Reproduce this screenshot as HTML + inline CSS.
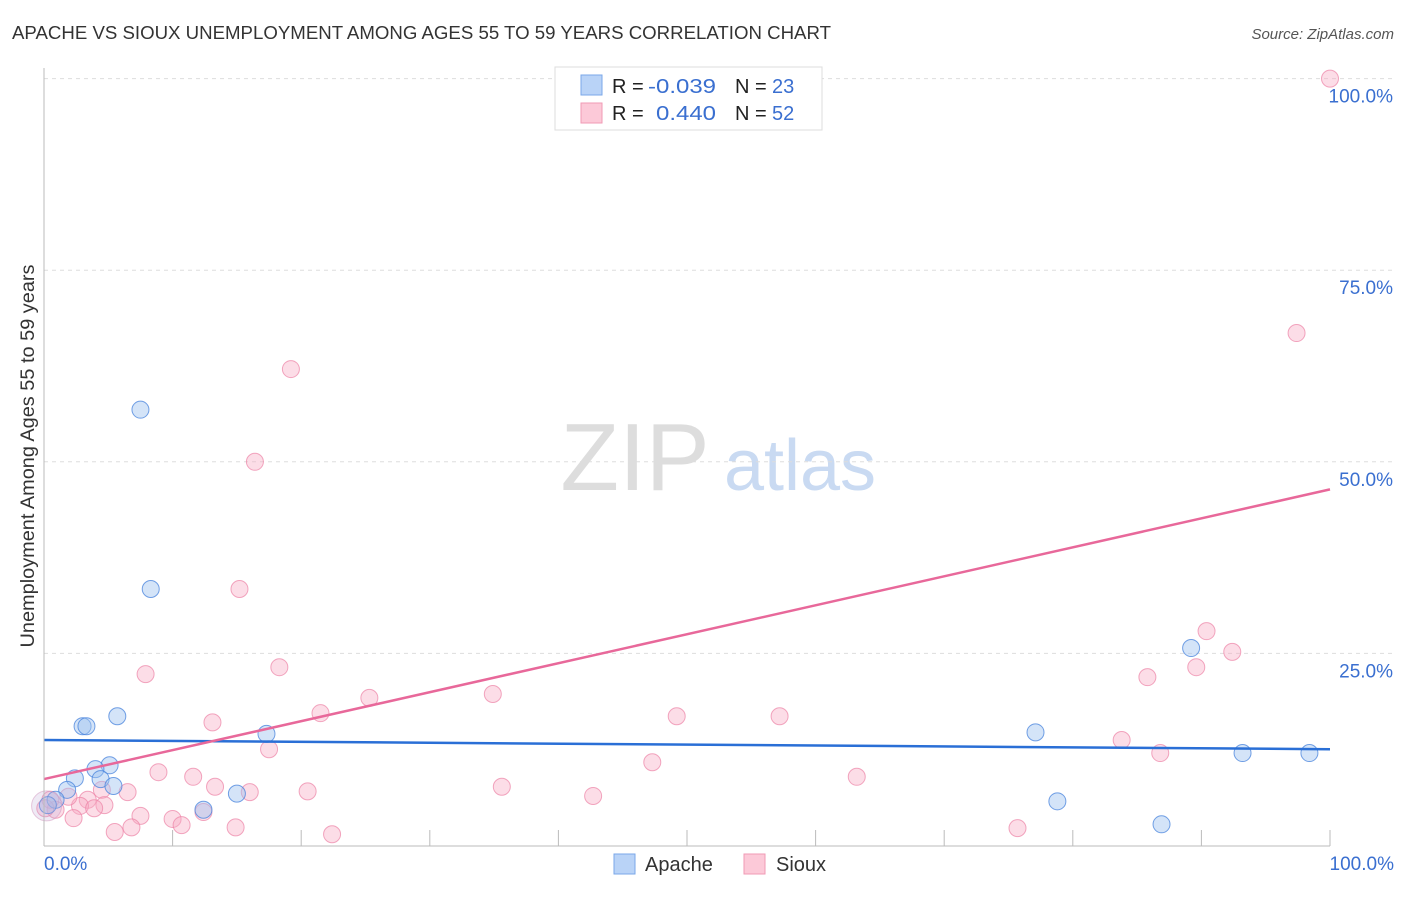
<!DOCTYPE html>
<html><head><meta charset="utf-8"><style>
body{margin:0;background:#fff;font-family:"Liberation Sans",sans-serif;}
svg text{font-family:"Liberation Sans",sans-serif;}
</style></head><body>
<svg width="1406" height="892" id="chart">
<text x="12" y="39" font-size="18" fill="#333" textLength="819" lengthAdjust="spacingAndGlyphs">APACHE VS SIOUX UNEMPLOYMENT AMONG AGES 55 TO 59 YEARS CORRELATION CHART</text>
<text x="1394" y="39" font-size="15" fill="#555" text-anchor="end" font-style="italic">Source: ZipAtlas.com</text>
<text x="34" y="456" font-size="19" fill="#333" text-anchor="middle" textLength="383" lengthAdjust="spacingAndGlyphs" transform="rotate(-90 34 456)">Unemployment Among Ages 55 to 59 years</text>
<g><text x="635" y="490" font-size="96" fill="#ddd" font-family="Liberation Serif" text-anchor="middle">ZIP</text><text x="800" y="490" font-size="72" fill="#c9daf2" text-anchor="middle">atlas</text></g>
<g id="grid"></g><g id="marks"></g>
<line x1="44" y1="68" x2="44" y2="846" stroke="#bbb"/>
<line x1="44" y1="846" x2="1330" y2="846" stroke="#bbb"/>
<text x="44" y="870" font-size="19" fill="#3a6fd0">0.0%</text>
<text x="1394" y="870" font-size="19" fill="#3a6fd0" text-anchor="end">100.0%</text>
<g>
<rect x="555" y="67" width="267" height="63" fill="#fff" stroke="#ddd"/>
<rect x="581" y="75" width="21" height="20" fill="#b9d3f7" stroke="#7aa7e8"/>
<rect x="581" y="103" width="21" height="20" fill="#fcc9d8" stroke="#f09ab5"/>
<text x="612" y="93" font-size="20" fill="#222">R = <tspan x="648" fill="#3a6fd0" textLength="68" lengthAdjust="spacingAndGlyphs">-0.039</tspan><tspan x="735">N = </tspan><tspan x="772" fill="#3a6fd0">23</tspan></text>
<text x="612" y="120" font-size="20" fill="#222">R = <tspan x="656" fill="#3a6fd0" textLength="60" lengthAdjust="spacingAndGlyphs">0.440</tspan><tspan x="735">N = </tspan><tspan x="772" fill="#3a6fd0">52</tspan></text>
</g>
<g>
<rect x="614" y="854" width="21" height="20" fill="#b9d3f7" stroke="#7aa7e8"/>
<text x="645" y="871" font-size="20" fill="#333">Apache</text>
<rect x="744" y="854" width="21" height="20" fill="#fcc9d8" stroke="#f09ab5"/>
<text x="776" y="871" font-size="20" fill="#333">Sioux</text>
</g>
</svg>
<script>
const yTicks=[0,25,50,75,100];
const yTickLabels=["","25.0%","50.0%","75.0%","100.0%"];
const xTicks=[0,10,20,30,40,50,60,70,80,90,100];
const apacheX=[7.5,8.3,5.7,3.0,3.3,5.1,4.0,2.4,4.4,5.4,1.8,0.9,0.3,12.4,15.0,17.3,77.1,78.8,86.9,89.2,93.2,98.4,0.2];
const apacheY=[56.8,33.4,16.8,15.5,15.5,10.4,9.9,8.7,8.6,7.7,7.2,5.9,5.2,4.6,6.7,14.5,14.7,5.7,2.7,25.7,12.0,12.0,5.1];
const siouxX=[100,97.4,19.2,16.4,15.2,7.9,18.3,90.4,92.4,89.6,85.8,34.9,25.3,21.5,13.1,49.2,57.2,17.5,83.8,86.8,47.3,8.9,63.2,11.6,13.3,35.6,16.0,20.5,6.5,4.5,3.4,4.7,2.8,3.9,1.9,42.7,7.5,10.0,12.4,10.7,14.9,6.8,5.5,22.4,75.7,2.3,0.9,43.2,51.9,54.2,0.5,0.1];
const siouxY=[100,66.8,62.1,50.0,33.4,22.3,23.2,27.9,25.2,23.2,21.9,19.7,19.2,17.2,16.0,16.8,16.8,12.5,13.7,12.0,10.8,9.5,8.9,8.9,7.6,7.6,6.9,7.0,6.9,7.2,5.9,5.2,5.1,4.8,6.3,6.4,3.8,3.4,4.3,2.6,2.3,2.3,1.7,1.4,2.2,3.5,4.6,99.8,99.8,99.8,5.9,4.8];
const apacheTrend=[13.7,12.5];
const siouxTrend=[8.6,46.4];
const NS="http://www.w3.org/2000/svg";
const X=v=>44+v*12.86, Y=v=>845-v*7.664;
const grid=document.getElementById('grid'), marks=document.getElementById('marks');
function mk(tag,attrs,parent){const e=document.createElementNS(NS,tag);for(const k in attrs)e.setAttribute(k,attrs[k]);parent.appendChild(e);return e;}
yTicks.forEach((t,i)=>{if(t===0)return;
 const l=mk('line',{x1:44,x2:1394,y1:Y(t),y2:Y(t),stroke:'#ddd','stroke-dasharray':'4 4'},grid);
 
 
 const tx=mk('text',{x:1393,y:Y(t)+24,'font-size':19,fill:'#3a6fd0','text-anchor':'end'},grid);
 tx.textContent=yTickLabels[i];
 
 
});
xTicks.forEach(t=>{
 const l=mk('line',{x1:X(t),x2:X(t),y1:830,y2:846,stroke:'#bbb'},grid);
 
 
});
siouxX.forEach((x,i)=>{
 const c=mk('circle',{cx:X(x),cy:Y(siouxY[i]),r:8.5,fill:'rgba(248,170,195,0.4)',stroke:'rgba(236,130,165,0.7)','stroke-width':1},marks);
 
 
});
apacheX.forEach((x,i)=>{
 const big=i===apacheX.length-1;
 const c=mk('circle',{cx:X(x),cy:Y(apacheY[i]),r:big?15:8.5,fill:big?'rgba(190,170,215,0.25)':'rgba(160,195,240,0.45)',stroke:big?'rgba(210,150,190,0.5)':'rgba(70,130,220,0.75)','stroke-width':1},marks);
 
 
});
const lb=mk('line',{x1:X(0),y1:Y(apacheTrend[0]),x2:X(100),y2:Y(apacheTrend[1]),stroke:'#2a6fd6','stroke-width':2.5},marks);


const lp=mk('line',{x1:X(0),y1:Y(siouxTrend[0]),x2:X(100),y2:Y(siouxTrend[1]),stroke:'#e8689a','stroke-width':2.5},marks);


</script>
</body></html>
